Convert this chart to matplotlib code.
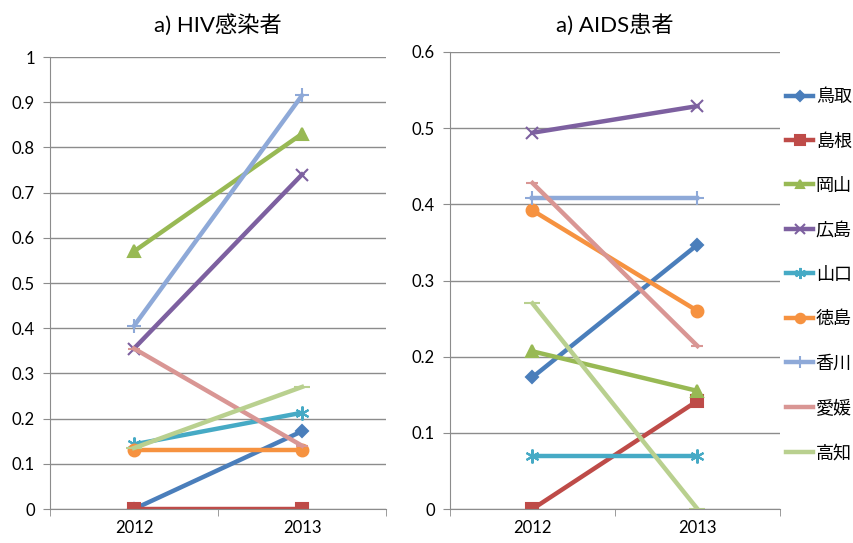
import numpy as np
import matplotlib
matplotlib.use('Agg')
import matplotlib.pyplot as plt

plt.rcParams['font.family'] = ['Lato', 'Noto Sans CJK JP', 'DejaVu Sans']

years = ['2012', '2013']
prefs = ['鳥取', '島根', '岡山', '広島', '山口', '徳島', '香川', '愛媛', '高知']

# HIV infected 2012, 2013
hiv = [
    [0.0, 0.172],
    [0.0, 0.0],
    [0.57, 0.83],
    [0.355, 0.74],
    [0.143, 0.213],
    [0.131, 0.131],
    [0.405, 0.915],
    [0.355, 0.14],
    [0.135, 0.27],
]

# AIDS patients 2012, 2013
aids = [
    [0.173, 0.347],
    [0.0, 0.142],
    [0.207, 0.155],
    [0.494, 0.529],
    [0.070, 0.070],
    [0.392, 0.260],
    [0.408, 0.408],
    [0.428, 0.214],
    [0.270, 0.0],
]

colors = ['#4A7EBB', '#BE4B48', '#98B954', '#7D60A0', '#46AAC5',
          '#F69240', '#8EA9D8', '#D99694', '#B9D08F']
markers = ['D', 's', '^', 'x', (6, 2, 0), 'o', '+', '_', '_']
msizes = [6, 8.5, 8, 9, 10, 8.5, 10, 8, 11]

fig = plt.figure(figsize=(8.54, 5.43), dpi=100)
ax1 = fig.add_axes([50/854, 1-509/543, 336/854, 452/543])
ax2 = fig.add_axes([450/854, 1-509/543, 330/854, 457/543])

grey = '#8c8c8c'
x = np.arange(len(years))


def style(ax, ymax, title, pad):
    ax.set_xlim(-0.5, 1.5)
    ax.set_ylim(0, ymax)
    ticks = np.round(np.arange(0, ymax + 0.001, 0.1), 1)
    ax.set_yticks(ticks)
    ax.set_yticklabels(['%g' % v for v in ticks])
    ax.set_xticks(x)
    ax.set_xticklabels(years)
    ax.set_xticks([-0.5, 0.5, 1.5], minor=True)
    ax.tick_params(axis='x', which='major', length=0, labelsize=12, pad=8)
    ax.tick_params(axis='x', which='minor', length=5, color=grey, direction='out')
    ax.tick_params(axis='y', length=5, color=grey, labelsize=12, pad=6)
    ax.grid(axis='y', color=grey, linewidth=1)
    ax.set_axisbelow(True)
    for s in ['top', 'right']:
        ax.spines[s].set_visible(False)
    for s in ['left', 'bottom']:
        ax.spines[s].set_color(grey)
    ax.set_title(title, fontsize=16, pad=pad)


for i, p in enumerate(prefs):
    ax1.plot(x, hiv[i], color=colors[i], lw=3.2, marker=markers[i],
             ms=msizes[i], mew=1.5, label=p)
    ax2.plot(x, aids[i], color=colors[i], lw=3.2, marker=markers[i],
             ms=msizes[i], mew=1.5, label=p)

style(ax1, 1.0, 'a) HIV感染者', 18)
style(ax2, 0.6, 'a) AIDS患者', 14)

h, l = ax2.get_legend_handles_labels()
fig.legend(h, l, loc='center left', bbox_to_anchor=(786/854, 1-275/543),
           frameon=False, fontsize=13, handlelength=1.5, handletextpad=0.15,
           labelspacing=1.55, borderpad=0, borderaxespad=0, markerscale=0.8)

plt.savefig('out.png', dpi=100)
